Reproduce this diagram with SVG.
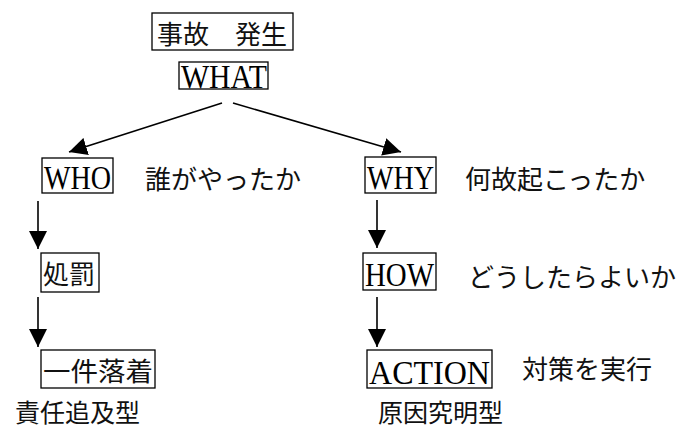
<svg xmlns="http://www.w3.org/2000/svg" width="688" height="430" viewBox="0 0 688 430">
  <defs>
    <marker id="ah" markerUnits="userSpaceOnUse" markerWidth="18" markerHeight="18" refX="18" refY="9" orient="auto">
      <path d="M0,0 L18,9 L0,18 z" fill="#000"/>
    </marker>
    <style>
      .box { fill: #fff; stroke: #000; stroke-width: 1.3; }
      .jp { font-family: "Noto Sans CJK JP", "Noto Sans CJK SC", sans-serif; font-size: 26px; fill: #111; dominant-baseline: central; }
      .en { font-family: "Liberation Serif", "DejaVu Serif", serif; font-size: 33px; fill: #000; }
      .conn { stroke: #000; stroke-width: 1.6; fill: none; marker-end: url(#ah); }
    </style>
  </defs>
  <rect width="688" height="430" fill="#fff"/>

  <g id="connectors">
    <line class="conn" x1="222" y1="103" x2="69" y2="152"/>
    <line class="conn" x1="233" y1="103" x2="401" y2="152"/>
    <line class="conn" x1="38" y1="201" x2="38" y2="249"/>
    <line class="conn" x1="38" y1="297" x2="38" y2="347"/>
    <line class="conn" x1="377" y1="200" x2="377" y2="248"/>
    <line class="conn" x1="377" y1="297" x2="377" y2="347"/>
  </g>

  <g id="accident">
    <rect class="box" x="152" y="13" width="141" height="37"/>
    <text class="jp" x="157" y="32">事故　発生</text>
  </g>

  <g id="what">
    <rect class="box" x="179" y="62" width="89" height="27"/>
    <text class="en" x="181" y="88" textLength="86" lengthAdjust="spacingAndGlyphs">WHAT</text>
  </g>

  <g id="who">
    <rect class="box" x="42" y="158" width="71" height="35"/>
    <text class="en" x="44" y="189" textLength="67" lengthAdjust="spacingAndGlyphs">WHO</text>
    <text class="jp" x="145" y="177">誰がやったか</text>
  </g>

  <g id="why">
    <rect class="box" x="365" y="157" width="71" height="36"/>
    <text class="en" x="367" y="189" textLength="67" lengthAdjust="spacingAndGlyphs">WHY</text>
    <text class="jp" x="465" y="177">何故起こったか</text>
  </g>

  <g id="punish">
    <rect class="box" x="41" y="253" width="58" height="39"/>
    <text class="jp" x="43" y="272">処罰</text>
  </g>

  <g id="how">
    <rect class="box" x="363" y="253" width="73" height="37"/>
    <text class="en" x="365" y="286" textLength="69" lengthAdjust="spacingAndGlyphs">HOW</text>
    <text class="jp" x="468" y="275">どうしたらよいか</text>
  </g>

  <g id="settled">
    <rect class="box" x="41" y="350" width="114" height="38"/>
    <text class="jp" x="43" y="369" textLength="110" lengthAdjust="spacingAndGlyphs">一件落着</text>
  </g>

  <g id="action">
    <rect class="box" x="367" y="350" width="125" height="38"/>
    <text class="en" x="369" y="384" textLength="121" lengthAdjust="spacingAndGlyphs">ACTION</text>
    <text class="jp" x="522" y="367">対策を実行</text>
  </g>

  <g id="blame-type">
    <text class="jp" x="15" y="411" style="font-size:25px">責任追及型</text>
  </g>

  <g id="cause-type">
    <text class="jp" x="378" y="411" style="font-size:25px">原因究明型</text>
  </g>
</svg>
